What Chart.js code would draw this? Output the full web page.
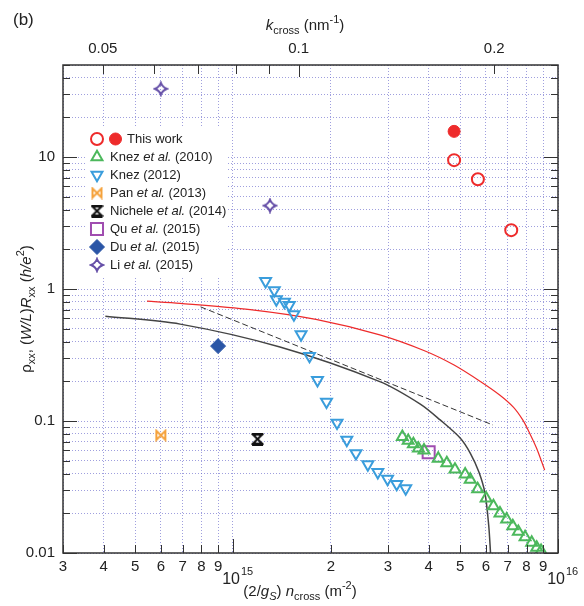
<!DOCTYPE html>
<html>
<head>
<meta charset="utf-8">
<script src="https://cdn.jsdelivr.net/npm/chart.js@4.4.0/dist/chart.umd.min.js"></script>
<style>
  html, body { margin: 0; padding: 0; background: #fff; }
  #wrap { width: 584px; height: 606px; }
</style>
</head>
<body>
<div id="wrap"><canvas id="chart" width="584" height="606"></canvas></div>
<script>
// ---- data: x = (2/gs) n_cross (m^-2), y = rho_xx (h/e^2) ----
const thisWorkOpenN = [4.79e15, 5.67e15, 7.18e15];
const thisWorkOpenRho = [9.5, 6.8, 2.8];
const thisWorkFilledN = [4.79e15];
const thisWorkFilledRho = [15.7];

const knez2010N = [3.32e15, 3.46e15, 3.59e15, 3.72e15, 3.87e15, 4.28e15, 4.55e15, 4.82e15, 5.18e15, 5.37e15,
  5.66e15, 6.01e15, 6.33e15, 6.63e15, 6.95e15, 7.26e15, 7.55e15, 7.92e15, 8.30e15, 8.60e15, 8.87e15];
const knez2010Rho = [0.076, 0.071, 0.067, 0.062, 0.060, 0.052, 0.048, 0.043, 0.0395, 0.036,
  0.0305, 0.026, 0.0227, 0.020, 0.018, 0.016, 0.0145, 0.0132, 0.012, 0.011, 0.0104];

const knez2012N = [1.26e15, 1.34e15, 1.36e15, 1.44e15, 1.49e15, 1.54e15, 1.62e15, 1.72e15, 1.82e15, 1.94e15,
  2.09e15, 2.24e15, 2.39e15, 2.60e15, 2.79e15, 2.99e15, 3.19e15, 3.40e15];
const knez2012Rho = [1.15, 0.98, 0.835, 0.80, 0.756, 0.643, 0.454, 0.311, 0.204, 0.140,
  0.097, 0.072, 0.057, 0.047, 0.041, 0.0364, 0.0333, 0.0309];

const panN = [6.0e14];
const panRho = [0.078];
const nicheleN = [1.19e15];
const nicheleRho = [0.073];
const quN = [4.0e15];
const quRho = [0.058];
const duN = [9.0e14];
const duRho = [0.37];
const liN = [6.0e14, 1.3e15];
const liRho = [33, 4.3];

const redCurveN = [5.44e14, 6.88e14, 1.13e15, 1.8e15, 2.83e15, 3.9e15, 4.79e15, 5.8e15, 6.63e15, 7.3e15, 7.79e15, 8.18e15, 8.6e15, 9.1e15];
const redCurveRho = [0.81, 0.78, 0.70, 0.59, 0.45, 0.34, 0.266, 0.198, 0.157, 0.127, 0.102, 0.081, 0.062, 0.0425];
const blackCurveN = [4.05e14, 6.88e14, 1.395e15, 2.83e15, 3.77e15, 4.34e15, 5.0e15, 5.37e15, 5.71e15, 5.96e15, 6.12e15, 6.2e15, 6.22e15];
const blackCurveRho = [0.624, 0.543, 0.364, 0.199, 0.1345, 0.102, 0.0744, 0.0572, 0.0411, 0.0285, 0.0163, 0.010, 0.0085];
const dashN = [7.95e14, 6.31e15];
const dashRho = [0.734, 0.0933];

// ---- axes ----
const xTickValues = [3e14, 4e14, 5e14, 6e14, 7e14, 8e14, 9e14, 1e15, 2e15, 3e15, 4e15, 5e15, 6e15, 7e15, 8e15, 9e15, 1e16];
const xTickLabels = ['3', '4', '5', '6', '7', '8', '9', '', '2', '3', '4', '5', '6', '7', '8', '9', ''];
const xPowerTicks = [1e15, 1e16];
const xPowerLabels = ['15', '16'];
const yTickValues = [0.01, 0.02, 0.03, 0.04, 0.05, 0.06, 0.07, 0.08, 0.09, 0.1, 0.2, 0.3, 0.4, 0.5, 0.6, 0.7, 0.8, 0.9,
  1, 2, 3, 4, 5, 6, 7, 8, 9, 10, 20, 30, 40, 50];
const yTickLabels = ['0.01', '', '', '', '', '', '', '', '', '0.1', '', '', '', '', '', '', '', '',
  '1', '', '', '', '', '', '', '', '', '10', '', '', '', ''];
const kTickValues = [0.05, 0.06, 0.07, 0.08, 0.09, 0.1, 0.2];
const kTickLabels = ['0.05', '', '', '', '', '0.1', '0.2'];

const kFromN = (n) => Math.sqrt(2 * Math.PI * n) * 1e-9;

const FONT = '"Liberation Sans", Arial, sans-serif';
const GRID = 'rgba(95, 95, 200, 0.6)';
const RED = '#ee2b2b';
const GREEN = '#4cb85c';
const BLUE = '#3a9ddc';
const ORANGE = '#f5a23c';
const PURPLE = '#a04db0';
const NAVY = '#2a55a6';
const VIOLET = '#6650a8';

Chart.defaults.font.family = FONT;
Chart.defaults.color = '#222';

function pts(xs, ys) {
    return xs.map((x, i) => ({ x: x, y: ys[i] }));
}

function makeMarker(kind, color, size) {
    const c = document.createElement('canvas');
    c.width = size;
    c.height = size;
    const g = c.getContext('2d');
    const m = 2;
    const s = size;
    g.strokeStyle = color;
    g.lineWidth = 2;
    g.beginPath();
    if (kind === 'bowtie') {
        g.moveTo(m, m);
        g.lineTo(s - m, s - m);
        g.lineTo(s - m, m);
        g.lineTo(m, s - m);
        g.closePath();
        g.stroke();
    } else if (kind === 'hourglass') {
        g.moveTo(m, m);
        g.lineTo(s - m, m);
        g.lineTo(m, s - m);
        g.lineTo(s - m, s - m);
        g.closePath();
        g.stroke();
        g.lineWidth = 3;
        g.beginPath();
        g.moveTo(1, 1.5); g.lineTo(s - 1, 1.5);
        g.moveTo(1, s - 1.5); g.lineTo(s - 1, s - 1.5);
        g.stroke();
    } else if (kind === 'star') {
        const h = s / 2;
        const d = s * 0.1;
        g.moveTo(h, m);
        g.quadraticCurveTo(h + d, h - d, s - m, h);
        g.quadraticCurveTo(h + d, h + d, h, s - m);
        g.quadraticCurveTo(h - d, h + d, m, h);
        g.quadraticCurveTo(h - d, h - d, h, m);
        g.closePath();
        g.stroke();
    }
    return c;
}

const bowtie = makeMarker('bowtie', ORANGE, 13);
const hourglass = makeMarker('hourglass', '#111', 13);
const star = makeMarker('star', VIOLET, 16);

const open = 'rgba(0,0,0,0)';

const datasets = [
    { label: 'This work', data: pts(thisWorkFilledN, thisWorkFilledRho), pointStyle: 'circle', pointRadius: 6,
      backgroundColor: RED, borderColor: RED, borderWidth: 1 },
    { label: 'This work open', data: pts(thisWorkOpenN, thisWorkOpenRho), pointStyle: 'circle', pointRadius: 6,
      backgroundColor: open, borderColor: RED, borderWidth: 2 },
    { label: 'Knez 2010', data: pts(knez2010N, knez2010Rho), pointStyle: 'triangle', pointRadius: 6.3,
      backgroundColor: open, borderColor: GREEN, borderWidth: 2 },
    { label: 'Knez 2012', data: pts(knez2012N, knez2012Rho), pointStyle: 'triangle', pointRotation: 180, pointRadius: 6.3,
      backgroundColor: open, borderColor: BLUE, borderWidth: 2 },
    { label: 'Pan 2013', data: pts(panN, panRho), pointStyle: bowtie },
    { label: 'Nichele 2014', data: pts(nicheleN, nicheleRho), pointStyle: hourglass },
    { label: 'Qu 2015', data: pts(quN, quRho), pointStyle: 'rect', pointRadius: 8.5,
      backgroundColor: open, borderColor: PURPLE, borderWidth: 2 },
    { label: 'Du 2015', data: pts(duN, duRho), pointStyle: 'rectRot', pointRadius: 7.5,
      backgroundColor: NAVY, borderColor: NAVY, borderWidth: 1 },
    { label: 'Li 2015', data: pts(liN, liRho), pointStyle: star },
    { label: 'red', data: pts(redCurveN, redCurveRho), showLine: true, pointRadius: 0, borderColor: RED,
      borderWidth: 1.2, tension: 0.3 },
    { label: 'black', data: pts(blackCurveN, blackCurveRho), showLine: true, pointRadius: 0, borderColor: '#444',
      borderWidth: 1.5, tension: 0.3 },
    { label: 'dash', data: pts(dashN, dashRho), showLine: true, pointRadius: 0, borderColor: '#333',
      borderWidth: 1, borderDash: [6, 3] }
];

// legend rows: [marker dataset indexes, text parts]
const legendRows = [
    { idx: [1, 0], text: [['This work', 'n']] },
    { idx: [2], text: [['Knez ', 'n'], ['et al.', 'i'], [' (2010)', 'n']] },
    { idx: [3], text: [['Knez (2012)', 'n']] },
    { idx: [4], text: [['Pan ', 'n'], ['et al.', 'i'], [' (2013)', 'n']] },
    { idx: [5], text: [['Nichele ', 'n'], ['et al.', 'i'], [' (2014)', 'n']] },
    { idx: [6], text: [['Qu ', 'n'], ['et al.', 'i'], [' (2015)', 'n']] },
    { idx: [7], text: [['Du ', 'n'], ['et al.', 'i'], [' (2015)', 'n']] },
    { idx: [8], text: [['Li ', 'n'], ['et al.', 'i'], [' (2015)', 'n']] }
];

function partFont(kind, size) {
    const small = kind.indexOf('sub') >= 0 || kind.indexOf('sup') >= 0;
    const it = kind.indexOf('i') === 0 ? 'italic ' : '';
    return it + (small ? Math.round(size * 0.72) : size) + 'px ' + FONT;
}

function drawRich(ctx, parts, x, y, size, align) {
    ctx.save();
    ctx.textBaseline = 'middle';
    ctx.textAlign = 'left';
    let total = 0;
    const widths = parts.map(([t, k]) => {
        ctx.font = partFont(k, size);
        const w = ctx.measureText(t).width;
        total += w;
        return w;
    });
    let cx = align === 'left' ? x : x - total / 2;
    parts.forEach(([t, k], i) => {
        ctx.font = partFont(k, size);
        let dy = 0;
        if (k.indexOf('sub') >= 0) dy = size * 0.32;
        if (k.indexOf('sup') >= 0) dy = -size * 0.38;
        ctx.fillText(t, cx, y + dy);
        cx += widths[i];
    });
    ctx.restore();
}

const decorPlugin = {
    id: 'decor',
    beforeDatasetsDraw(chart) {
        const ctx = chart.ctx;
        ctx.save();
        ctx.fillStyle = '#fff';
        ctx.fillRect(87, 127, 141, 149);
        const rowsY = [139, 157, 175, 193, 211, 229, 247, 265];
        legendRows.forEach((row, r) => {
            const y = rowsY[r];
            row.idx.forEach((di, j) => {
                const ds = datasets[di];
                ctx.strokeStyle = ds.borderColor || '#000';
                ctx.fillStyle = ds.backgroundColor || open;
                ctx.lineWidth = ds.borderWidth || 1;
                Chart.helpers.drawPoint(ctx, {
                    pointStyle: ds.pointStyle, rotation: ds.pointRotation || 0,
                    radius: ds.pointRadius || 6, borderWidth: ds.borderWidth || 1
                }, 97 + j * 18.5, y);
            });
            ctx.fillStyle = '#222';
            drawRich(ctx, row.text, row.idx.length > 1 ? 127 : 110, y, 13, 'left');
        });
        ctx.restore();
    },
    afterDraw(chart) {
        const ctx = chart.ctx;
        const a = chart.chartArea;
        const xs = chart.scales.x;
        const ys = chart.scales.y;
        const ks = chart.scales.k;
        ctx.save();
        ctx.strokeStyle = '#333';
        ctx.lineWidth = 1;
        ctx.beginPath();
        yTickValues.forEach((v, i) => {
            const p = Math.round(ys.getPixelForValue(v)) + 0.5;
            const len = yTickLabels[i] ? 14 : 7;
            ctx.moveTo(a.left, p); ctx.lineTo(a.left + len, p);
            ctx.moveTo(a.right, p); ctx.lineTo(a.right - len, p);
        });
        xTickValues.forEach((v) => {
            const p = Math.round(xs.getPixelForValue(v)) + 0.5;
            const len = xPowerTicks.indexOf(v) >= 0 ? 14 : 8;
            ctx.moveTo(p, a.bottom); ctx.lineTo(p, a.bottom - len);
        });
        kTickValues.forEach((v) => {
            const p = Math.round(ks.getPixelForValue(v)) + 0.5;
            ctx.moveTo(p, a.top); ctx.lineTo(p, a.top + (v === 0.1 ? 12 : 9));
        });
        ctx.stroke();
        ctx.lineWidth = 1.5;
        ctx.strokeRect(a.left, a.top, a.right - a.left, a.bottom - a.top);

        ctx.fillStyle = '#222';
        xPowerTicks.forEach((v, i) => {
            const p = xs.getPixelForValue(v);
            ctx.font = '16px ' + FONT;
            ctx.textAlign = 'right';
            ctx.textBaseline = 'middle';
            ctx.fillText('10', p + 7, 580);
            ctx.font = '11px ' + FONT;
            ctx.textAlign = 'left';
            ctx.fillText(xPowerLabels[i], p + 8, 572);
        });

        drawRich(ctx, [['(2/', 'n'], ['g', 'i'], ['S', 'isub'], [') ', 'n'], ['n', 'i'], ['cross', 'sub'],
            [' (m', 'n'], ['-2', 'sup'], [')', 'n']], 300, 592, 15);
        drawRich(ctx, [['k', 'i'], ['cross', 'sub'], [' (nm', 'n'], ['-1', 'sup'], [')', 'n']], 305, 26, 15);
        ctx.font = '17px ' + FONT;
        ctx.textAlign = 'left';
        ctx.textBaseline = 'middle';
        ctx.fillText('(b)', 13, 20);

        ctx.translate(27, 309);
        ctx.rotate(-Math.PI / 2);
        drawRich(ctx, [['\u03c1', 'n'], ['xx', 'sub'], [', (', 'n'], ['W/L', 'i'], [')', 'n'], ['R', 'i'],
            ['xx', 'sub'], [' (', 'n'], ['h/e', 'i'], ['2', 'sup'], [')', 'n']], 0, 0, 15);
        ctx.restore();
    }
};

const chart = new Chart(document.getElementById('chart').getContext('2d'), {
    type: 'scatter',
    data: { datasets: datasets },
    options: {
        responsive: false,
        animation: false,
        layout: { padding: { left: 0, right: 26, top: 0, bottom: 0 } },
        plugins: { legend: { display: false }, tooltip: { enabled: false } },
        scales: {
            x: {
                type: 'logarithmic', position: 'bottom', min: 3e14, max: 1e16,
                afterBuildTicks: (s) => { s.ticks = xTickValues.map((v) => ({ value: v })); },
                afterFit: (s) => { s.height = 53; },
                ticks: { autoSkip: false, maxRotation: 0, padding: 5, font: { size: 15 }, color: '#222',
                    callback: (v, i) => xTickLabels[i] },
                grid: { color: GRID, lineWidth: 1, drawTicks: false },
                border: { display: false, dash: [1, 2] }
            },
            k: {
                type: 'logarithmic', position: 'top', min: kFromN(3e14), max: kFromN(1e16),
                afterBuildTicks: (s) => { s.ticks = kTickValues.map((v) => ({ value: v })); },
                afterFit: (s) => { s.height = 65; },
                ticks: { autoSkip: false, maxRotation: 0, padding: 7, font: { size: 15 }, color: '#222',
                    callback: (v, i) => kTickLabels[i] },
                grid: { display: false, drawTicks: false },
                border: { display: false }
            },
            y: {
                type: 'logarithmic', position: 'left', min: 0.01, max: 50,
                afterBuildTicks: (s) => { s.ticks = yTickValues.map((v) => ({ value: v })); },
                afterFit: (s) => { s.width = 63; },
                ticks: { autoSkip: false, padding: 8, font: { size: 15 }, color: '#222',
                    callback: (v, i) => yTickLabels[i] },
                grid: { color: GRID, lineWidth: 1, drawTicks: false },
                border: { display: false, dash: [1, 2] }
            }
        }
    },
    plugins: [decorPlugin]
});
</script>
</body>
</html>
